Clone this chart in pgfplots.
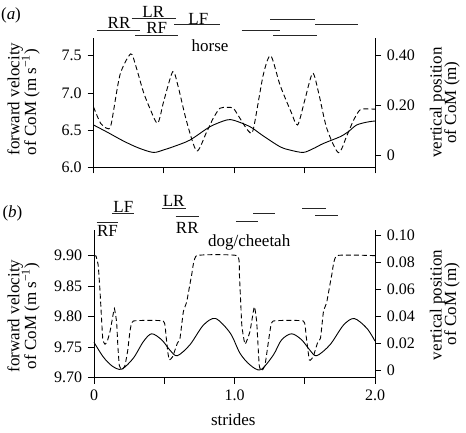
\documentclass[border=0pt]{standalone}
\usepackage{fontspec}
\setmainfont{Liberation Serif}
\usepackage{pgfplots}
\pgfplotsset{compat=1.18}

\pgfplotstableread{
x y
0.000 6.569
0.100 6.470
0.212 6.354
0.320 6.260
0.425 6.200
0.500 6.235
0.567 6.277
0.686 6.367
0.828 6.546
0.946 6.636
1.000 6.630
1.112 6.546
1.200 6.430
1.325 6.277
1.400 6.230
1.490 6.200
1.560 6.250
1.633 6.320
1.751 6.410
1.810 6.478
1.870 6.569
1.950 6.610
2.000 6.622
}\horseV

\pgfplotstableread{
x y
0.000 0.195
0.050 0.130
0.094 0.110
0.125 0.125
0.188 0.323
0.264 0.407
0.300 0.360
0.354 0.256
0.400 0.190
0.456 0.130
0.500 0.220
0.563 0.336
0.600 0.280
0.662 0.136
0.733 0.019
0.800 0.090
0.851 0.150
0.899 0.190
0.950 0.193
0.993 0.190
1.040 0.150
1.100 0.099
1.135 0.105
1.206 0.323
1.259 0.400
1.325 0.283
1.400 0.180
1.450 0.123
1.500 0.220
1.557 0.330
1.600 0.250
1.657 0.110
1.740 0.012
1.800 0.080
1.846 0.140
1.893 0.183
1.950 0.187
2.000 0.186
}\horseZ

\pgfplotstableread{
x y
0.000 9.758
0.066 9.734
0.130 9.719
0.197 9.714
0.280 9.732
0.351 9.759
0.410 9.772
0.482 9.762
0.541 9.745
0.593 9.736
0.683 9.754
0.778 9.786
0.865 9.797
0.970 9.773
1.039 9.740
1.110 9.721
1.186 9.713
1.276 9.737
1.335 9.762
1.407 9.772
1.478 9.762
1.537 9.745
1.585 9.736
1.680 9.754
1.775 9.786
1.852 9.797
1.942 9.781
2.000 9.760
}\dogV

\pgfplotstableread{
x y
0.000 0.0852
0.014 0.0850
0.030 0.0780
0.043 0.0585
0.062 0.0240
0.078 0.0196
0.095 0.0220
0.114 0.0290
0.130 0.0380
0.145 0.0460
0.161 0.0360
0.170 0.0180
0.180 0.0040
0.197 0.0005
0.210 0.0020
0.221 0.0040
0.240 0.0150
0.256 0.0290
0.280 0.0368
0.493 0.0368
0.512 0.0264
0.525 0.0140
0.536 0.0079
0.560 0.0104
0.593 0.0203
0.612 0.0240
0.636 0.0437
0.660 0.0511
0.695 0.0709
0.731 0.0852
1.019 0.0852
1.035 0.0709
1.052 0.0339
1.075 0.0196
1.110 0.0290
1.141 0.0474
1.158 0.0360
1.176 0.0040
1.193 0.0000
1.217 0.0040
1.252 0.0290
1.276 0.0368
1.490 0.0368
1.509 0.0264
1.533 0.0079
1.560 0.0104
1.590 0.0203
1.612 0.0240
1.633 0.0437
1.657 0.0510
1.692 0.0709
1.728 0.0852
2.000 0.0852
}\dogZ

\begin{document}
\fontsize{17}{20}\selectfont
\begin{tikzpicture}
\useasboundingbox (0pt,0pt) rectangle (466pt,432pt);
\pgfplotsset{
  base/.style={scale only axis, xmin=0, xmax=2, clip=false,
    tick align=outside, major tick length=6pt,
    axis line style={line width=0.8pt, black},
    every tick/.style={line width=0.8pt, black},
    ticklabel style={font=\fontsize{16}{18}\selectfont},
    /pgf/number format/assume math mode=true,
    xtick={0,0.5,1,1.5,2}},
  vel/.style={black, line width=0.9pt, smooth, tension=0.5},
  pos/.style={black, line width=0.9pt, dash pattern=on 5pt off 3pt},
  gait/.style={black!85, line width=1pt},
}
% ---------- panel (a) ----------
\begin{axis}[base, at={(93.5pt,264.7pt)}, anchor=south west,
  width=281.5pt, height=129pt,
  axis x line*=bottom, axis y line*=left,
  ymin=6.0, ymax=7.734,
  ytick={6,6.5,7,7.5}, yticklabels={6.0,6.5,7.0,7.5},
  xticklabels={,,,,}]
\addplot[vel] table {\horseV};
% gait bars
\addplot[gait] coordinates {(0.023,7.845) (0.330,7.845)};
\addplot[gait] coordinates {(0.271,8.003) (0.584,8.003)};
\addplot[gait] coordinates {(0.295,7.778) (0.602,7.778)};
\addplot[gait] coordinates {(0.574,7.913) (0.899,7.913)};
\addplot[gait] coordinates {(1.053,7.836) (1.325,7.836)};
\addplot[gait] coordinates {(1.254,7.989) (1.574,7.989)};
\addplot[gait] coordinates {(1.277,7.765) (1.586,7.765)};
\addplot[gait] coordinates {(1.574,7.913) (1.881,7.913)};
\end{axis}
\begin{axis}[base, at={(93.5pt,264.7pt)}, anchor=south west,
  width=281.5pt, height=129pt,
  axis x line=none, axis y line*=right,
  ymin=-0.0464, ymax=0.4696,
  ytick={0,0.2,0.4}, yticklabels={0,0.20,0.40}]
\addplot[pos, smooth, tension=0.45] table {\horseZ};
\end{axis}
% ---------- panel (b) ----------
\begin{axis}[base, at={(94pt,54.3pt)}, anchor=south west,
  width=281pt, height=147.7pt,
  axis x line*=bottom, axis y line*=left,
  ymin=9.70, ymax=9.942,
  ytick={9.70,9.75,9.80,9.85,9.90}, yticklabels={9.70,9.75,9.80,9.85,9.90},
  xticklabels={0,,1.0,,2.0}]
\addplot[vel] table {\dogV};
\addplot[gait] coordinates {(0.127,9.9684) (0.288,9.9684)};
\addplot[gait] coordinates {(0.019,9.9548) (0.173,9.9548)};
\addplot[gait] coordinates {(0.482,9.9777) (0.653,9.9777)};
\addplot[gait] coordinates {(0.581,9.9639) (0.747,9.9639)};
\addplot[gait] coordinates {(1.009,9.9557) (1.165,9.9557)};
\addplot[gait] coordinates {(1.134,9.9684) (1.288,9.9684)};
\addplot[gait] coordinates {(1.483,9.9777) (1.649,9.9777)};
\addplot[gait] coordinates {(1.573,9.9651) (1.740,9.9651)};
\end{axis}
\begin{axis}[base, at={(94pt,54.3pt)}, anchor=south west,
  width=281pt, height=147.7pt,
  axis x line=none, axis y line*=right,
  ymin=-0.0052, ymax=0.1042,
  ytick={0,0.02,0.04,0.06,0.08,0.10}, yticklabels={0,0.02,0.04,0.06,0.08,0.10}]
\addplot[pos, smooth, tension=0.25] table {\dogZ};
\end{axis}
% ---------- texts ----------
\node at (11pt,417pt) {(\textit{a})};
\node at (12.5pt,219pt) {(\textit{b})};
\node[anchor=base] at (210pt,380.3pt) {horse};
\node[anchor=base] at (249.2pt,186pt) {dog/cheetah};
\node[anchor=base] at (233.3pt,6.5pt) {strides};
% gait labels (a)
\node[anchor=base] at (119pt,403.7pt) {RR};
\node[anchor=base] at (153.3pt,414.7pt) {LR};
\node[anchor=base] at (156.7pt,398pt) {RF};
\node[anchor=base] at (198.3pt,407.5pt) {LF};
% gait labels (b)
\node[anchor=base] at (123.3pt,219.3pt) {LF};
\node[anchor=base] at (107.5pt,195.3pt) {RF};
\node[anchor=base] at (173.7pt,225.3pt) {LR};
\node[anchor=base] at (187.3pt,198.7pt) {RR};
% axis titles
\node[rotate=90, anchor=base] at (19.3pt,333pt) {forward velocity};
\node[rotate=90, anchor=base] at (36pt,330pt) {of CoM (m s\textsuperscript{−1})};
\node[rotate=90, anchor=base] at (441.7pt,329.5pt) {vertical position};
\node[rotate=90, anchor=base] at (456pt,329.5pt) {of CoM (m)};
\node[rotate=90, anchor=base] at (19.3pt,116pt) {forward velocity};
\node[rotate=90, anchor=base] at (36pt,116pt) {of CoM (m s\textsuperscript{−1})};
\node[rotate=90, anchor=base] at (441.7pt,127pt) {vertical position};
\node[rotate=90, anchor=base] at (456pt,128pt) {of CoM (m)};
\end{tikzpicture}
\end{document}
